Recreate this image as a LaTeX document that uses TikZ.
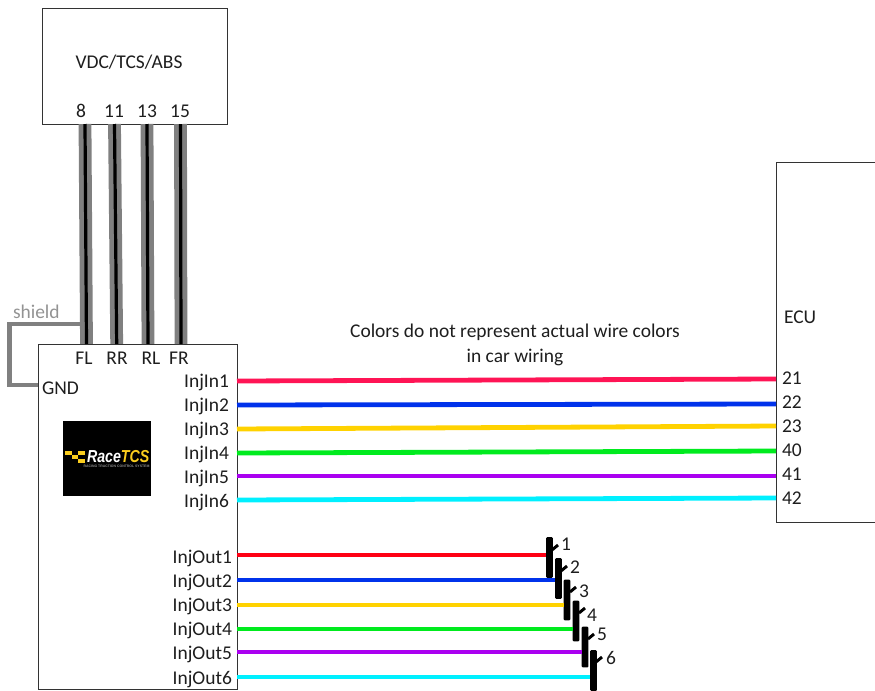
\documentclass[tikz,border=0pt]{standalone}
\usepackage{fontspec}
\setmainfont{Carlito}
\newfontfamily\logofont{Liberation Sans}
\definecolor{txt}{RGB}{30,30,30}
\definecolor{shieldgrey}{RGB}{128,128,128}
\definecolor{wred}{RGB}{255,20,85}
\definecolor{wredb}{RGB}{255,0,20}
\definecolor{wblue}{RGB}{0,50,235}
\definecolor{wyellow}{RGB}{255,210,0}
\definecolor{wgreen}{RGB}{0,235,30}
\definecolor{wpurple}{RGB}{170,0,240}
\definecolor{wcyan}{RGB}{0,240,255}
\definecolor{logoyellow}{RGB}{250,205,30}
\tikzset{
  x=0.75pt,y=-0.75pt,
  every node/.style={font=\fontsize{14.6}{16}\selectfont,text=txt,inner sep=0pt,outer sep=0pt},
  box/.style={draw=black!80,line width=0.7pt,fill=white,minimum width=#1,anchor=north west},
  lbl/.style={anchor=center},
  rlbl/.style={anchor=east},
  llbl/.style={anchor=west},
  shieldwire/.style={draw=shieldgrey,line width=9.6pt,postaction={draw=black,line width=2.4pt}},
  sigwire/.style={line width=3.6pt},
  injbar/.style={fill=black,rounded corners=0.8pt,minimum width=5.2pt,minimum height=30.5pt,anchor=center},
  injtick/.style={draw=black,line width=2.2pt},
  flagsq/.style={fill=logoyellow},
}
\begin{document}
\begin{tikzpicture}
\path[use as bounding box] (0,0) rectangle (875,690);
\clip (0,0) rectangle (875,690);
% boxes
\node[box=138.75pt,minimum height=87pt] (vdc) at (42,8) {};
\node[box=149.25pt,minimum height=258.75pt] (tcs) at (38,344) {};
\node[box=90pt,minimum height=270pt] (ecu) at (776,162) {};
% pins on the VDC box and the TCS box
\coordinate (v8) at (85,124);
\coordinate (v11) at (114.5,124);
\coordinate (v13) at (147,124);
\coordinate (v15) at (180.5,124);
\coordinate (t8) at (86.5,344);
\coordinate (t11) at (116.7,344);
\coordinate (t13) at (148,344);
\coordinate (t15) at (181,344);
\draw[shieldwire] (v8) -- (t8);
\draw[shieldwire] (v11) -- (t11);
\draw[shieldwire] (v13) -- (t13);
\draw[shieldwire] (v15) -- (t15);
% shield
\coordinate (sh) at (80,324);
\coordinate (g) at (38,385);
\draw[draw=shieldgrey,line width=3.6pt] (sh) -| (9.5,385) -- (g);
\node[text=shieldgrey!85!white,llbl] (shieldlbl) at (13,312) {shield};
% labels
\node[lbl] (vdclbl) at (129,62) {VDC/TCS/ABS};
\node[lbl] (n8) at (81,111) {8};
\node[lbl] (n11) at (114,111) {11};
\node[lbl] (n13) at (147,111) {13};
\node[lbl] (n15) at (180,111) {15};
\node[lbl] (fl) at (84,358) {FL};
\node[lbl] (rr) at (117,358) {RR};
\node[lbl] (rl) at (151,358) {RL};
\node[lbl] (fr) at (179,358) {FR};
\node[llbl] (gnd) at (42,388) {GND};
\node[rlbl] (in1) at (229,382) {InjIn1};
\node[rlbl] (in2) at (229,406) {InjIn2};
\node[rlbl] (in3) at (229,430) {InjIn3};
\node[rlbl] (in4) at (229,454) {InjIn4};
\node[rlbl] (in5) at (229,478) {InjIn5};
\node[rlbl] (in6) at (229,502) {InjIn6};
\node[rlbl] (out1) at (232,558) {InjOut1};
\node[rlbl] (out2) at (232,582) {InjOut2};
\node[rlbl] (out3) at (232,606) {InjOut3};
\node[rlbl] (out4) at (232,630) {InjOut4};
\node[rlbl] (out5) at (232,654) {InjOut5};
\node[rlbl] (out6) at (232,679) {InjOut6};
\node[llbl] (ecul) at (784,317) {ECU};
\node[llbl] (e21) at (782,378) {21};
\node[llbl] (e22) at (782,402) {22};
\node[llbl] (e23) at (782,426) {23};
\node[llbl] (e40) at (782,450) {40};
\node[llbl] (e41) at (782,474) {41};
\node[llbl] (e42) at (782,498) {42};
\node[lbl] (note1) at (515,332) {Colors do not represent actual wire colors};
\node[lbl] (note2) at (515,357) {in car wiring};
% input wires
\coordinate (a1) at (237,381); \coordinate (b1) at (776,379);
\coordinate (a2) at (237,405); \coordinate (b2) at (776,404);
\coordinate (a3) at (237,429); \coordinate (b3) at (776,426);
\coordinate (a4) at (237,453); \coordinate (b4) at (776,451);
\coordinate (a5) at (237,476); \coordinate (b5) at (776,476);
\coordinate (a6) at (237,500); \coordinate (b6) at (776,498);
\draw[sigwire,wred] (a1) -- (b1);
\draw[sigwire,wblue] (a2) -- (b2);
\draw[sigwire,wyellow] (a3) -- (b3);
\draw[sigwire,wgreen] (a4) -- (b4);
\draw[sigwire,wpurple] (a5) -- (b5);
\draw[sigwire,wcyan] (a6) -- (b6);
% injectors
\node[injbar] (inj1) at (549.5,557.5) {};
\node[injbar] (inj2) at (558.5,578.5) {};
\node[injbar] (inj3) at (567,600) {};
\node[injbar] (inj4) at (576,621) {};
\node[injbar] (inj5) at (585,647) {};
\node[injbar] (inj6) at (593.5,670.5) {};
\draw[injtick] (552,550) -- (558,545);
\draw[injtick] (561,571) -- (567,566);
\draw[injtick] (570,592) -- (576,587);
\draw[injtick] (579,613) -- (585,608);
\draw[injtick] (588,639) -- (594,634);
\draw[injtick] (596,662) -- (602,657);
\coordinate (o1) at (237,555);
\coordinate (o2) at (237,580);
\coordinate (o3) at (237,605);
\coordinate (o4) at (237,629);
\coordinate (o5) at (237,652);
\coordinate (o6) at (237,677);
\draw[sigwire,wredb] (o1) -- (o1 -| inj1.west);
\draw[sigwire,wblue] (o2) -- (o2 -| inj2.west);
\draw[sigwire,wyellow] (o3) -- (o3 -| inj3.west);
\draw[sigwire,wgreen] (o4) -- (o4 -| inj4.west);
\draw[sigwire,wpurple] (o5) -- (o5 -| inj5.west);
\draw[sigwire,wcyan] (o6) -- (o6 -| inj6.west);
\node[lbl] (j1) at (566,544) {1};
\node[lbl] (j2) at (575,567) {2};
\node[lbl] (j3) at (584,591) {3};
\node[lbl] (j4) at (592,615) {4};
\node[lbl] (j5) at (602,634) {5};
\node[lbl] (j6) at (611,658) {6};
% logo
\node[fill=black,minimum width=66pt,minimum height=56.25pt,anchor=north west] (logo) at (63,421) {};
\fill[flagsq] (65,451) rectangle (72,455);
\fill[flagsq] (72,455) rectangle (78,459);
\fill[flagsq] (78,451) rectangle (85,455);
\fill[flagsq] (78,459) rectangle (85,463);
\node[anchor=west,text=white] (logot) at (87,457) {\scalebox{0.82}[1]{\logofont\bfseries\itshape\fontsize{13}{14}\selectfont Race\textcolor{logoyellow}{TCS}}};
\node[anchor=center,text=black!45] (logos) at (116.5,466.5) {\logofont\bfseries\fontsize{2.6}{3}\selectfont RACING TRACTION CONTROL SYSTEM};
\end{tikzpicture}
\end{document}
